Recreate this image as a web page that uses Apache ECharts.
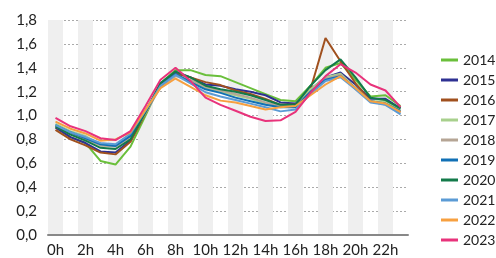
<!DOCTYPE html>
<html>
<head>
<meta charset="utf-8">
<script src="https://cdn.jsdelivr.net/npm/echarts@6/dist/echarts.min.js"></script>
<style>
  html, body { margin: 0; padding: 0; background: #fff; }
  #chart { width: 496px; height: 258px; }
</style>
</head>
<body>
<div id="chart"></div>
<script>
  // hour labels, every second one shown on the axis
  var hours = ["0h", "1h", "2h", "3h", "4h", "5h", "6h", "7h", "8h", "9h", "10h", "11h",
    "12h", "13h", "14h", "15h", "16h", "17h", "18h", "19h", "20h", "21h", "22h", "23h"];

  var years = ["2014", "2015", "2016", "2017", "2018", "2019", "2020", "2021", "2022", "2023"];
  var colors = ["#6abf3b", "#2e3192", "#a0501e", "#a8d08d", "#b5a595", "#1170b5", "#137a4a", "#5b9bd5", "#f7a040", "#e8337b"];

  var y2014 = [0.90, 0.82, 0.77, 0.62, 0.59, 0.74, 1.00, 1.27, 1.38, 1.38, 1.34, 1.33, 1.28, 1.23, 1.18, 1.13, 1.12, 1.25, 1.40, 1.44, 1.30, 1.16, 1.17, 1.08];
  var y2015 = [0.90, 0.82, 0.77, 0.70, 0.69, 0.79, 1.03, 1.27, 1.36, 1.32, 1.26, 1.25, 1.22, 1.20, 1.17, 1.11, 1.10, 1.22, 1.32, 1.36, 1.26, 1.14, 1.14, 1.06];
  var y2016 = [0.88, 0.80, 0.75, 0.69, 0.675, 0.78, 1.02, 1.26, 1.35, 1.32, 1.28, 1.255, 1.21, 1.18, 1.14, 1.09, 1.09, 1.22, 1.65, 1.455, 1.27, 1.12, 1.10, 1.03];
  var y2017 = [0.93, 0.87, 0.83, 0.75, 0.75, 0.84, 1.04, 1.25, 1.34, 1.29, 1.23, 1.20, 1.17, 1.14, 1.10, 1.08, 1.08, 1.22, 1.32, 1.35, 1.23, 1.12, 1.12, 1.05];
  var y2018 = [0.91, 0.85, 0.80, 0.75, 0.74, 0.82, 1.02, 1.24, 1.33, 1.30, 1.24, 1.21, 1.18, 1.15, 1.11, 1.08, 1.08, 1.20, 1.31, 1.34, 1.22, 1.12, 1.09, 1.02];
  var y2019 = [0.92, 0.86, 0.81, 0.76, 0.745, 0.83, 1.03, 1.25, 1.35, 1.28, 1.22, 1.19, 1.15, 1.12, 1.09, 1.07, 1.07, 1.20, 1.30, 1.33, 1.23, 1.12, 1.10, 1.04];
  var y2020 = [0.91, 0.84, 0.79, 0.73, 0.72, 0.80, 1.03, 1.27, 1.37, 1.32, 1.25, 1.22, 1.20, 1.17, 1.13, 1.09, 1.09, 1.25, 1.38, 1.47, 1.32, 1.15, 1.13, 1.06];
  var y2021 = [0.92, 0.86, 0.82, 0.77, 0.76, 0.85, 1.04, 1.25, 1.34, 1.27, 1.195, 1.16, 1.13, 1.10, 1.07, 1.035, 1.05, 1.18, 1.29, 1.32, 1.22, 1.11, 1.09, 1.01];
  var y2022 = [0.95, 0.89, 0.85, 0.79, 0.80, 0.86, 1.05, 1.23, 1.31, 1.24, 1.17, 1.125, 1.11, 1.08, 1.05, 1.07, 1.08, 1.17, 1.26, 1.33, 1.23, 1.12, 1.10, 1.03];
  var y2023 = [0.98, 0.91, 0.87, 0.81, 0.795, 0.87, 1.08, 1.30, 1.40, 1.29, 1.15, 1.09, 1.04, 0.99, 0.955, 0.96, 1.03, 1.19, 1.33, 1.43, 1.36, 1.26, 1.21, 1.07];

  var values = [y2014, y2015, y2016, y2017, y2018, y2019, y2020, y2021, y2022, y2023];

  var font = "Lato";
  var myChart = echarts.init(document.getElementById("chart"));

  var series = years.map(function(year, i) {
    return {
      name: year,
      type: "line",
      data: values[i],
      symbol: "none",
      lineStyle: { width: 2, color: colors[i] },
      itemStyle: { color: colors[i] }
    };
  });

  var option = {
    animation: false,
    grid: { left: 48, right: 88, top: 20, bottom: 20 },
    legend: {
      orient: "vertical",
      left: 436,
      top: 48,
      icon: "rect",
      itemWidth: 17,
      itemHeight: 3,
      itemGap: 6,
      textStyle: { fontFamily: font, fontSize: 14, color: "#222" },
      data: years
    },
    xAxis: {
      type: "category",
      data: hours,
      boundaryGap: true,
      axisLine: { lineStyle: { color: "#888", width: 2 } },
      axisTick: { show: false },
      axisLabel: { interval: 1, margin: 8, fontFamily: font, fontSize: 15, color: "#222" },
      splitArea: { show: true, interval: 0, areaStyle: { color: ["#efefef", "rgba(255,255,255,0)"] } }
    },
    yAxis: {
      type: "value",
      min: 0,
      max: 1.8,
      interval: 0.2,
      axisLine: { show: false },
      axisTick: { show: false },
      axisLabel: {
        margin: 11,
        fontFamily: font,
        fontSize: 15,
        color: "#222",
        formatter: function(v) { return v.toFixed(1).replace(".", ","); }
      },
      splitLine: { lineStyle: { color: "#aaa", type: [2, 2], width: 1 } }
    },
    series: series
  };
  myChart.setOption(option);
</script>
</body>
</html>
